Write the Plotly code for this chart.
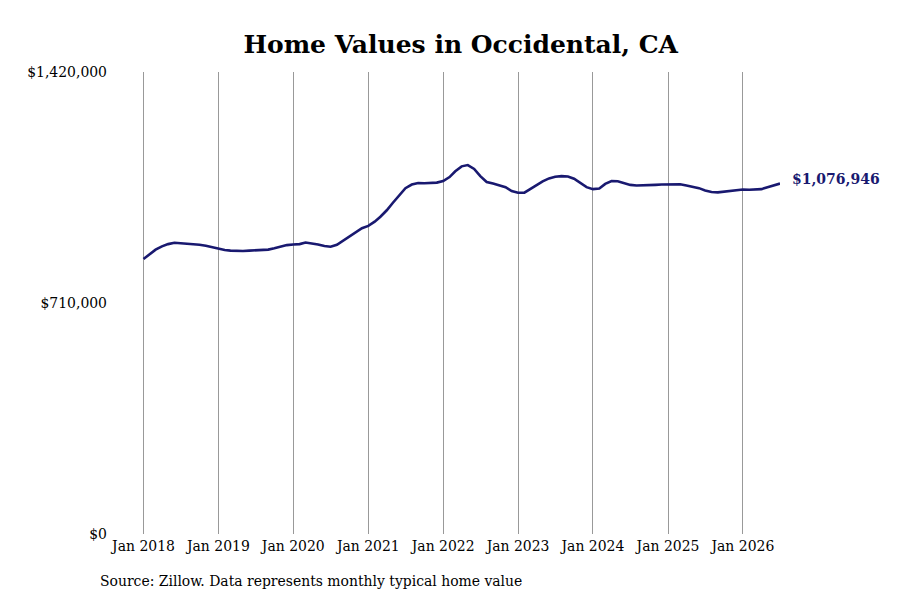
import pandas as pd
import plotly.graph_objects as go

# Monthly typical home value, Jan 2018 onward
dates = pd.date_range("2018-01-01", periods=103, freq="MS")
values = [
    845000, 860000, 874000, 884000, 891000, 895000, 894000, 892000, 890000, 889000, 886000, 881000,
    876000, 873000, 871000, 870000, 870000, 871000, 872000, 872000, 874000, 878000, 884000, 888000,
    890000, 891000, 896000, 894000, 890000, 885000, 883000, 889000, 902000, 915000, 930000, 940000,
    947000, 960000, 975000, 995000, 1018000, 1042000, 1063000, 1074000, 1079000, 1078000, 1078000, 1080000,
    1085000, 1097000, 1115000, 1130000, 1134000, 1122000, 1100000, 1082000, 1077000, 1072000, 1066000, 1054000,
    1049000, 1049000, 1060000, 1073000, 1084000, 1093000, 1098000, 1100000, 1099000, 1092000, 1080000, 1066000,
    1060000, 1062000, 1076000, 1085000, 1084000, 1078000, 1073000, 1071000, 1071000, 1072000, 1073000, 1074000,
    1075000, 1076000, 1075000, 1071000, 1067000, 1063000, 1056000, 1051000, 1050000, 1052000, 1056000, 1058000,
    1059000, 1058000, 1058000, 1060000, 1066000, 1072000, 1076946,
]
y_ticks = [0, 710000, 1420000]
y_tick_labels = ["$0", "$710,000", "$1,420,000"]
x_ticks = pd.date_range("2018-01-01", "2026-01-01", freq="YS")
x_tick_labels = [d.strftime("Jan %Y") for d in x_ticks]

NAVY = "#191970"
SERIF = "DejaVu Serif Condensed, DejaVu Serif, serif"

fig = go.Figure()
fig.add_trace(go.Scatter(x=dates, y=values, mode="lines",
                         line=dict(color=NAVY, width=2.6), hoverinfo="skip"))

# end-of-line value label
fig.add_annotation(x=dates[-1], y=values[-1], text=f"<b>${values[-1]:,.0f}</b>",
                   showarrow=False, xanchor="left", xshift=10, yshift=5,
                   font=dict(family="DejaVu Serif", size=14, color=NAVY))

fig.update_layout(
    width=900, height=600,
    paper_bgcolor="white", plot_bgcolor="white",
    margin=dict(l=132, r=128, t=64, b=74),
    showlegend=False,
    title=dict(text="<b>Home Values in Occidental, CA</b>", x=0.503, xanchor="center",
               y=0.94, yanchor="middle",
               font=dict(family="DejaVu Serif", size=25, color="black")),
    font=dict(family=SERIF, size=15.5, color="black"),
)
# start the range a little before Jan 2018 so its gridline is drawn
fig.update_xaxes(range=[pd.Timestamp("2017-12-15"), dates[-1]], tickvals=x_ticks, ticktext=x_tick_labels,
                 showgrid=True, gridcolor="#999999", gridwidth=1,
                 zeroline=False, showline=False, ticks="", fixedrange=True)
fig.update_yaxes(range=[0, 1420000], tickvals=y_ticks, ticktext=y_tick_labels,
                 showgrid=False, zeroline=False, showline=False, ticks="",
                 ticklabelstandoff=32, fixedrange=True)

fig.add_annotation(text="Source: Zillow. Data represents monthly typical home value",
                   xref="paper", yref="paper", x=-0.066, y=-0.1017, xanchor="left", yanchor="middle",
                   showarrow=False, font=dict(family=SERIF, size=15.5, color="black"))

fig.write_html("out.html")
